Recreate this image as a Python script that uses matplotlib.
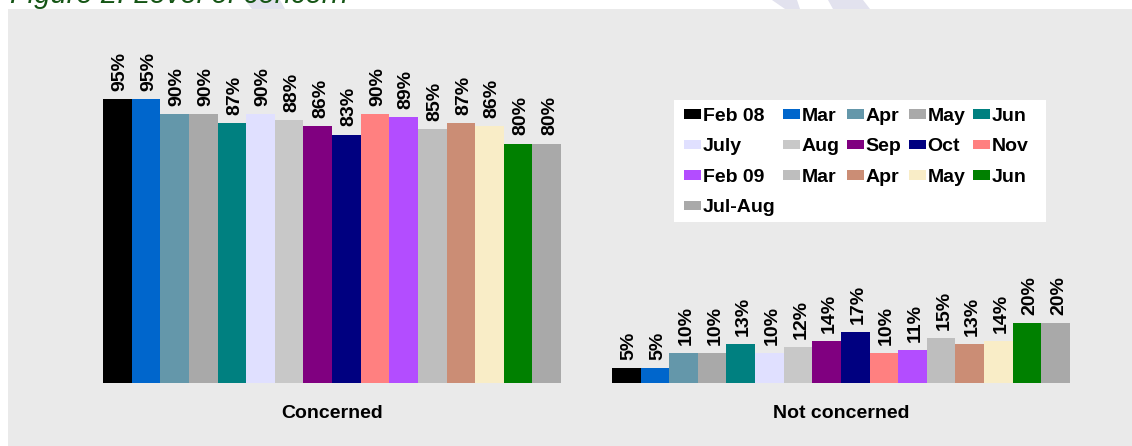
import numpy as np
import matplotlib
matplotlib.use("Agg")
import matplotlib.pyplot as plt
from matplotlib.patches import Rectangle, Polygon

plt.rcParams['font.family'] = ['Liberation Sans', 'DejaVu Sans']

# --- Data ---
months = ["Feb 08", "Mar", "Apr", "May", "Jun", "July", "Aug", "Sep", "Oct", "Nov",
          "Feb 09", "Mar", "Apr", "May", "Jun", "Jul-Aug"]
colors = ["#000000", "#0066CC", "#6497AA", "#A9A9A9", "#008080", "#E0E0FF", "#C8C8C8", "#800080",
          "#000080", "#FF8080", "#B34DFF", "#BEBEBE", "#CB8D75", "#F9EDC7", "#008000", "#A9A9A9"]
groups = ["Concerned", "Not concerned"]
concerned = [95, 95, 90, 90, 87, 90, 88, 86, 83, 90, 89, 85, 87, 86, 80, 80]
not_concerned = [5, 5, 10, 10, 13, 10, 12, 14, 17, 10, 11, 15, 13, 14, 20, 20]

# --- Figure / background ---
W, H = 1132, 446
fig = plt.figure(figsize=(W / 100, H / 100), dpi=100)
fig.patch.set_facecolor("white")

# faint watermark strokes peeking above the panel
for pts in [[(245, 0), (280, 0), (285, 9), (252, 9)],
            [(772, 0), (797, 0), (800, 9), (785, 9)],
            [(828, 0), (863, 0), (870, 9), (833, 9)]]:
    fig.patches.append(Polygon([(x / W, 1 - y / H) for x, y in pts], closed=True,
                               transform=fig.transFigure, facecolor="#E2E2EE",
                               edgecolor="none", zorder=-3))

fig.patches.append(Rectangle((8 / W, 0), 1, (H - 9) / H, transform=fig.transFigure,
                             facecolor="#EAEAEA", edgecolor="none", zorder=-2))
fig.patches.append(Rectangle((674 / W, 1 - 222 / H), 372 / W, 122 / H, transform=fig.transFigure,
                             facecolor="white", edgecolor="none", zorder=-1))

fig.text(10 / W, 1 - 3 / H, "Figure 2: Level of concern", fontsize=21, style="italic",
         color="#155515", va="baseline", ha="left")

# --- Bars ---
ax = fig.add_axes([103 / W, (H - 383) / H, 967 / W, 299 / H])
ax.set_facecolor("none")
ax.set_frame_on(False)

n = len(months)
gap = 1.78
handles = None
for g, vals in enumerate([concerned, not_concerned]):
    x = g * (n + gap) + np.arange(n) + 0.5
    bars = ax.bar(x, vals, width=1.0, color=colors, linewidth=0)
    if handles is None:
        handles = bars.patches
    for xi, v in zip(x, vals):
        ax.annotate(f"{v}%", (xi, v), xytext=(2, 6), textcoords="offset points",
                    rotation=90, ha="center", va="bottom", fontsize=14, fontweight="bold")

ax.set_xlim(0, 2 * n + gap)
ax.set_ylim(0, 100)
ax.set_yticks([])
ax.set_xticks([n / 2, n + gap + n / 2])
ax.set_xticklabels(groups, fontsize=14, fontweight="bold")
ax.tick_params(axis="x", length=0, pad=16)

# legend fills column-first, so reorder to read row by row
order = [0, 5, 10, 15, 1, 6, 11, 2, 7, 12, 3, 8, 13, 4, 9, 14]
ax.legend([handles[i] for i in order], [months[i] for i in order], ncol=5,
          loc="upper left", bbox_to_anchor=(684 / W, 1 - 108 / H), bbox_transform=fig.transFigure,
          frameon=False, borderpad=0, borderaxespad=0, handlelength=0.88, handleheight=0.36,
          handletextpad=0.08, columnspacing=0.38, labelspacing=0.69,
          prop={"weight": "bold", "size": 14})

fig.savefig("out.png", dpi=100)
plt.close()
